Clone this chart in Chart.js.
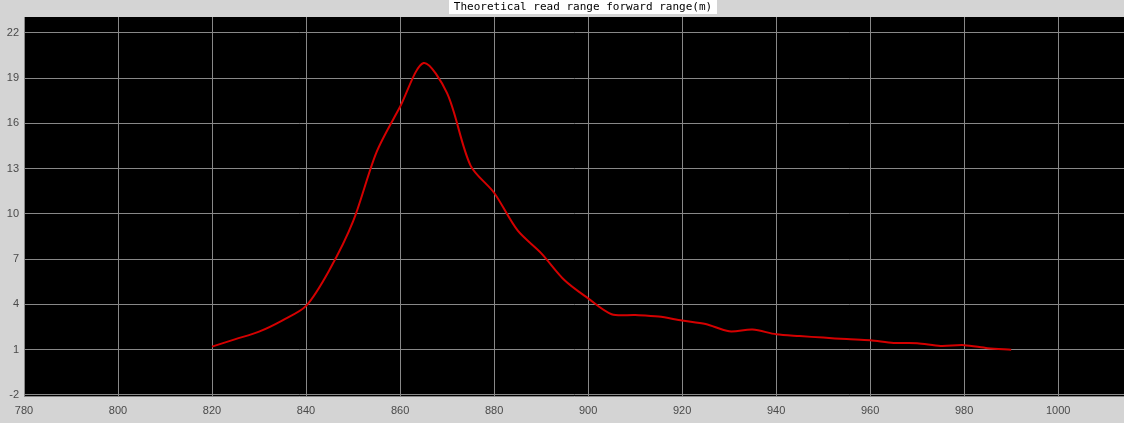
<!DOCTYPE html>
<html>
<head>
<meta charset="utf-8">
<title>Theoretical read range</title>
<script src="https://cdn.jsdelivr.net/npm/chart.js@4.4.1/dist/chart.umd.min.js"></script>
<style>
  html, body { margin: 0; padding: 0; background: #d4d4d4; overflow: hidden; }
  #wrap { width: 1124px; height: 423px; }
</style>
</head>
<body>
<div id="wrap"><canvas id="rangeChart" width="1124" height="423"></canvas></div>
<script>
const chartTitle = 'Theoretical read range forward range(m)';

// frequency (MHz) and read range (m)
const freqs = [820, 825, 830, 835, 840, 845, 850, 855, 860, 865, 870, 875, 880, 885, 890, 895, 900,
               905, 910, 915, 920, 925, 930, 935, 940, 945, 950, 955, 960, 965, 970, 975, 980, 985, 990];
const range = [1.2, 1.7, 2.2, 2.95, 3.9, 6.3, 9.5, 14.1, 17.1, 20.0, 18.0, 13.2, 11.4, 8.9, 7.4, 5.6, 4.4,
               3.35, 3.3, 3.2, 2.93, 2.7, 2.22, 2.33, 2.02, 1.9, 1.8, 1.7, 1.62, 1.45, 1.43, 1.25, 1.3, 1.1, 1.0];

const xTicks = [780, 800, 820, 840, 860, 880, 900, 920, 940, 960, 980, 1000];
const yTicks = [-2, 1, 4, 7, 10, 13, 16, 19, 22];

const gridGray = '#888888';
const labelFont = { family: 'Liberation Sans, Arial, sans-serif', size: 11 };

// gray page, black plot area, white title box
const framePlugin = {
    id: 'frame',
    beforeDraw(chart) {
        const { ctx, chartArea } = chart;
        ctx.save();
        ctx.fillStyle = '#d4d4d4';
        ctx.fillRect(0, 0, chart.width, chart.height);
        ctx.fillStyle = '#000';
        ctx.fillRect(chartArea.left, chartArea.top, chartArea.right - chartArea.left, chartArea.bottom - chartArea.top);
        ctx.restore();
    },
    afterDraw(chart) {
        const ctx = chart.ctx;
        ctx.save();
        ctx.fillStyle = '#fff';
        ctx.fillRect(449, 0, 268, 14);
        ctx.fillStyle = '#000';
        ctx.font = '11px "DejaVu Sans Mono", monospace';
        ctx.textAlign = 'center';
        ctx.textBaseline = 'middle';
        ctx.fillText(chartTitle, 583, 7);
        ctx.restore();
    }
};

document.addEventListener('DOMContentLoaded', () => {
    const ctx = document.getElementById('rangeChart').getContext('2d');

    new Chart(ctx, {
        type: 'line',
        data: {
            datasets: [{
                label: chartTitle,
                data: freqs.map((f, i) => ({ x: f, y: range[i] })),
                borderColor: '#d40000',
                borderWidth: 2,
                pointRadius: 0,
                tension: 0.3,
                fill: false
            }]
        },
        options: {
            responsive: false,
            animation: false,
            layout: { padding: { top: 17, right: 0, left: 0, bottom: 0 } },
            plugins: {
                legend: { display: false },
                title: { display: false },
                tooltip: { enabled: false }
            },
            scales: {
                x: {
                    type: 'linear',
                    min: 780,
                    max: 1014,
                    afterBuildTicks: scale => { scale.ticks = xTicks.map(v => ({ value: v })); },
                    afterFit: scale => { scale.height = 27; },
                    grid: { color: gridGray, lineWidth: 1, drawTicks: false },
                    border: { display: true, color: gridGray, width: 1 },
                    ticks: { color: '#4a4a4a', font: labelFont, padding: 8, maxRotation: 0, callback: v => String(v) }
                },
                y: {
                    min: -2.07,
                    max: 23.05,
                    afterBuildTicks: scale => { scale.ticks = yTicks.map(v => ({ value: v })); },
                    afterFit: scale => { scale.width = 24; },
                    grid: { color: gridGray, lineWidth: 1, drawTicks: false },
                    border: { display: true, color: gridGray, width: 1 },
                    ticks: { color: '#4a4a4a', font: labelFont, padding: 5, callback: v => String(v) }
                }
            }
        },
        plugins: [framePlugin]
    });
});
</script>
</body>
</html>
